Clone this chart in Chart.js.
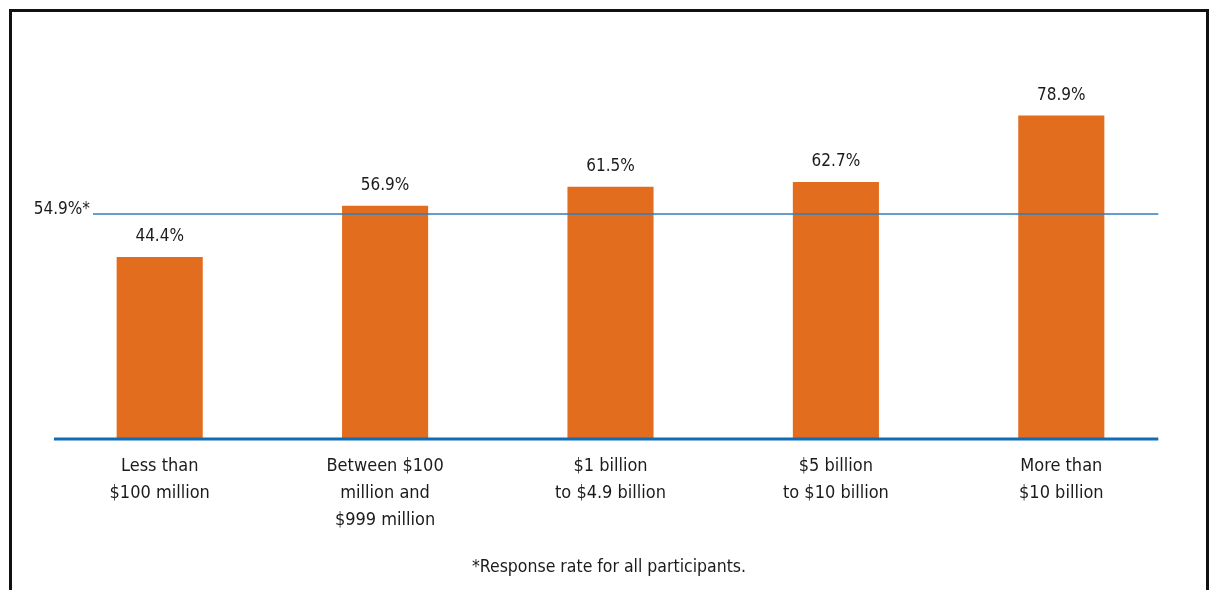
<!DOCTYPE html>
<html>
<head>
<meta charset="utf-8">
<script src="https://cdn.jsdelivr.net/npm/chart.js@4.4.1/dist/chart.umd.min.js"></script>
<style>
  html, body { margin: 0; padding: 0; background: #ffffff; }
  #wrap { position: relative; width: 1210px; height: 590px; }
</style>
</head>
<body>
<div id="wrap"><canvas id="chart" width="1210" height="590"></canvas></div>
<script>
// Response rate by company revenue band
const categories = [
  ['Less than', '$100 million'],
  ['Between $100', 'million and', '$999 million'],
  ['$1 billion', 'to $4.9 billion'],
  ['$5 billion', 'to $10 billion'],
  ['More than', '$10 billion']
];
const responseRates = [44.4, 56.9, 61.5, 62.7, 78.9];
const overallRate = 54.9;
const overallLabel = '54.9%*';
const footnote = '*Response rate for all participants.';

const FONT = '"Liberation Sans Narrow", "DejaVu Sans Condensed", "Roboto", sans-serif';
const TEXT = '#1b1b1b';
const ORANGE = '#e26d1f';
const BLUE_AXIS = '#0f6db7';
const BLUE_REF = '#2c7cc0';

const decorations = {
  id: 'decorations',
  afterDatasetsDraw(chart) {
    const { ctx } = chart;
    const x = chart.scales.x;
    const y = chart.scales.y;
    const meta = chart.getDatasetMeta(0);
    ctx.save();

    // value labels above each bar
    ctx.fillStyle = TEXT;
    ctx.font = '17px ' + FONT;
    ctx.textAlign = 'center';
    ctx.textBaseline = 'middle';
    meta.data.forEach((bar, i) => {
      ctx.fillText(responseRates[i].toFixed(1) + '%', bar.x, bar.y - 20);
    });

    // overall response rate reference line
    const yRef = y.getPixelForValue(overallRate);
    const right = x.getPixelForValue(4) + 97;
    ctx.strokeStyle = BLUE_REF;
    ctx.lineWidth = 1.5;
    ctx.beginPath();
    ctx.moveTo(93, yRef);
    ctx.lineTo(right, yRef);
    ctx.stroke();
    ctx.textAlign = 'right';
    ctx.textBaseline = 'alphabetic';
    ctx.fillText(overallLabel, 90, yRef);

    // baseline
    const y0 = y.getPixelForValue(0);
    ctx.strokeStyle = BLUE_AXIS;
    ctx.lineWidth = 3;
    ctx.beginPath();
    ctx.moveTo(54, y0);
    ctx.lineTo(right, y0);
    ctx.stroke();

    // footnote
    ctx.textAlign = 'center';
    ctx.textBaseline = 'middle';
    ctx.font = '17.5px ' + FONT;
    ctx.fillText(footnote, 609, 567);

    // frame
    ctx.strokeStyle = '#111111';
    ctx.lineWidth = 3;
    ctx.beginPath();
    ctx.moveTo(10.5, 600);
    ctx.lineTo(10.5, 10.5);
    ctx.lineTo(1207.5, 10.5);
    ctx.lineTo(1207.5, 600);
    ctx.stroke();
    ctx.restore();
  }
};

new Chart(document.getElementById('chart'), {
  type: 'bar',
  data: {
    labels: categories,
    datasets: [{
      data: responseRates,
      backgroundColor: ORANGE,
      borderWidth: 0,
      barPercentage: 0.382,
      categoryPercentage: 1.0
    }]
  },
  options: {
    responsive: false,
    animation: false,
    layout: { padding: { left: 47, right: 36, top: 29, bottom: 42 } },
    plugins: { legend: { display: false }, tooltip: { enabled: false } },
    scales: {
      x: {
        grid: { display: false, drawTicks: false },
        border: { display: false },
        ticks: {
          color: TEXT,
          font: { family: FONT, size: 18, lineHeight: 1.5 },
          padding: 14,
          maxRotation: 0,
          autoSkip: false
        }
      },
      y: {
        display: false,
        min: 0,
        max: 100
      }
    }
  },
  plugins: [decorations]
});
</script>
</body>
</html>
